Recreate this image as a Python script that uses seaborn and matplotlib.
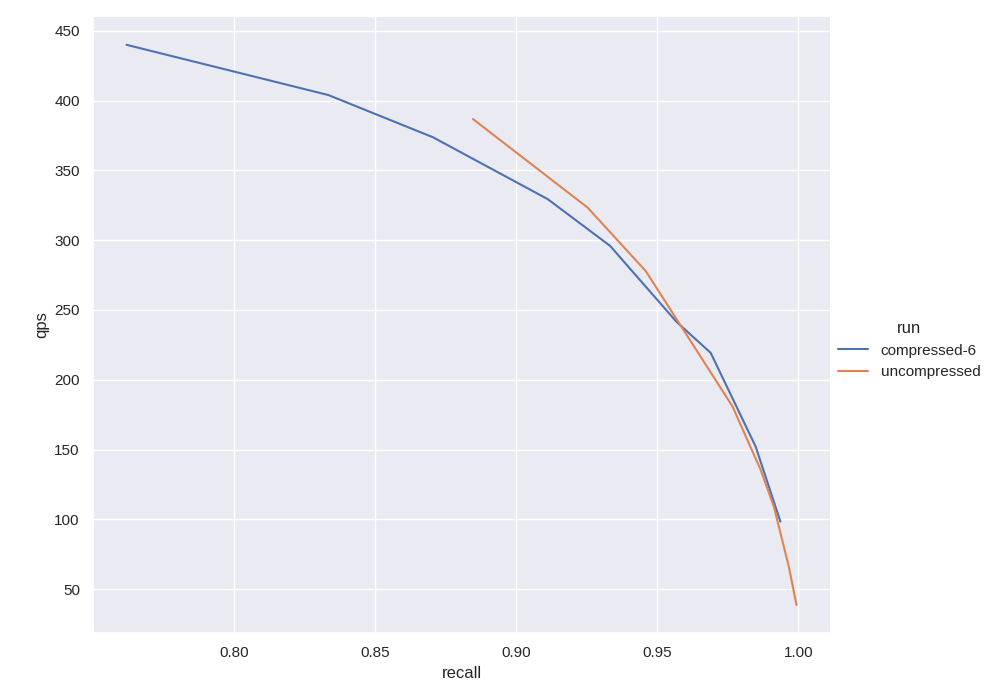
import pandas as pd
import seaborn as sns
import matplotlib.pyplot as plt

# recall / qps readings for each run
compressed_recall = [0.762, 0.8335, 0.8706, 0.9112, 0.9333, 0.9568, 0.9689, 0.9848, 0.9936]
compressed_qps = [440, 404, 373.7, 329.4, 295.9, 241.5, 219.3, 152.3, 98.4]

uncompressed_recall = [0.8847, 0.9253, 0.9459, 0.9652, 0.9766, 0.9866, 0.9913, 0.9966, 0.9993]
uncompressed_qps = [386.8, 323.4, 277.9, 217, 181, 135.5, 109, 66, 38.6]

df = pd.concat([
    pd.DataFrame({'recall': compressed_recall, 'qps': compressed_qps, 'run': 'compressed-6'}),
    pd.DataFrame({'recall': uncompressed_recall, 'qps': uncompressed_qps, 'run': 'uncompressed'}),
])

sns.set_theme()
plt.rcParams['font.family'] = ['Liberation Sans', 'DejaVu Sans']
g = sns.relplot(data=df, x='recall', y='qps', hue='run', kind='line', height=7, aspect=1.2)
g.figure.set_size_inches(9.94, 7)
g.figure.subplots_adjust(left=0.0936, right=0.835, top=0.976, bottom=0.0957)
g._legend.set_bbox_to_anchor((1.0, 0.5))

plt.savefig('out.png', dpi=100)
